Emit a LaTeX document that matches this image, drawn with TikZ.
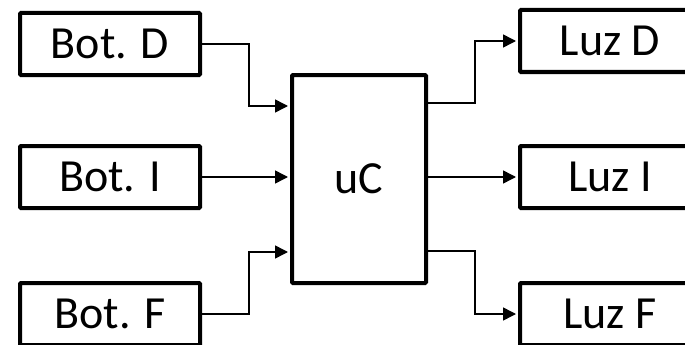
\documentclass[tikz,border=0pt]{standalone}
\usepackage{fontspec}
\setmainfont{Carlito}
\usetikzlibrary{arrows.meta,positioning,calc}

\begin{document}
\begin{tikzpicture}[x=1pt,y=-1pt,>={Triangle[length=13pt,width=13pt]}]
  \tikzstyle{blk}=[draw,line width=4pt,rounded corners=1pt,minimum width=180pt,minimum height=62pt,inner sep=0pt,font=\fontsize{46}{50}\selectfont]
  \tikzstyle{wire}=[line width=1.5pt,shorten >=2pt]
  \clip (0,0) rectangle (685,345);
  % controlador
  \node[blk,minimum width=134pt,minimum height=208pt] (uc) at (359,179) {uC};
  % entradas
  \node[blk] (botd) at (110,44) {Bot. D};
  \node[blk] (boti) at (110,177) {Bot. I};
  \node[blk] (botf) at (110,314) {Bot. F};
  % salidas
  \node[blk] (luzd) at (610,41) {Luz D};
  \node[blk] (luzi) at (610,177) {Luz I};
  \node[blk] (luzf) at (610,314) {Luz F};
  \draw[wire,->] (botd.east) -| ++(47,0) |- ([yshift=73pt]uc.west);
  \draw[wire,->] (boti.east) -- (boti.east -| uc.west);
  \draw[wire,->] (botf.east) -| ++(47,0) |- ([yshift=-73pt]uc.west);
  \draw[wire,->] ([yshift=76pt]uc.east) -- ++(47,0) |- (luzd.west);
  \draw[wire,->] (uc.east |- luzi.west) -- (luzi.west);
  \draw[wire,->] ([yshift=-72pt]uc.east) -- ++(47,0) |- (luzf.west);
\end{tikzpicture}
\end{document}
